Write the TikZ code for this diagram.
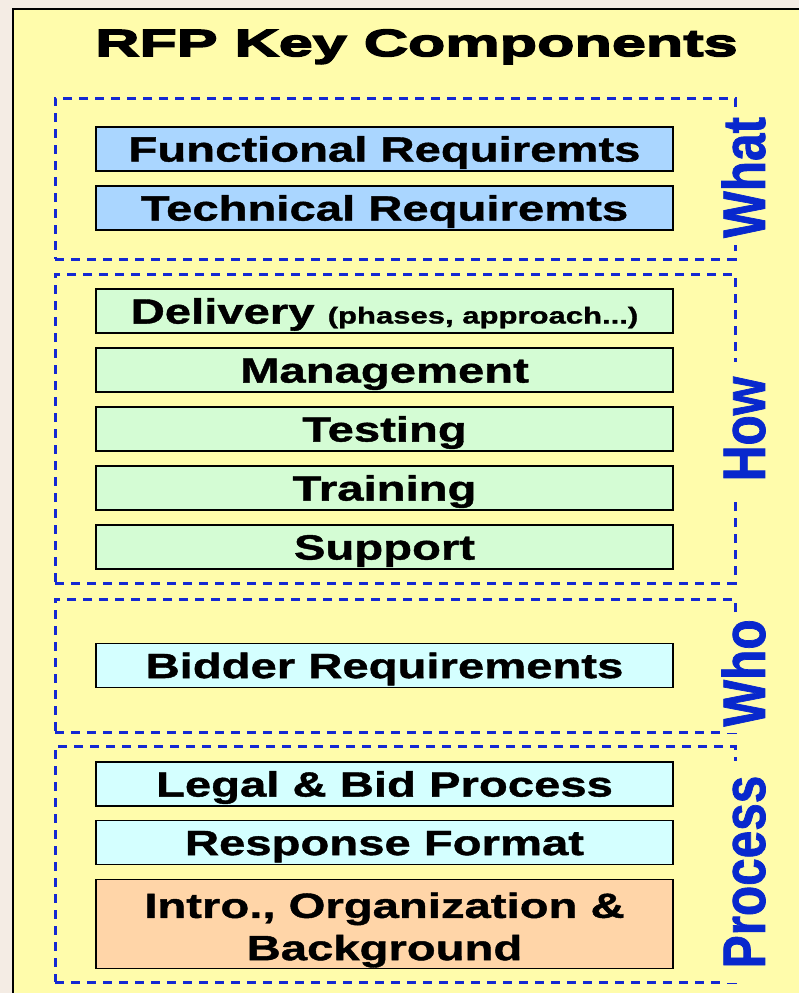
\documentclass[tikz,border=0pt]{standalone}
\usepackage{fontspec}
\setmainfont{Liberation Sans}
\newfontfamily\titlefont{Liberation Sans Bold}[FakeStretch=1.61,FakeBold=4]
\newfontfamily\boxfont{Liberation Sans Bold}[FakeStretch=1.35,FakeBold=1.2]
\newfontfamily\labelfont{Liberation Sans Bold}[FakeStretch=0.825,FakeBold=1.2]

\definecolor{pagebg}{RGB}{244,236,228}
\definecolor{panel}{RGB}{255,252,171}
\definecolor{dashblue}{RGB}{20,40,210}
\definecolor{labelblue}{RGB}{8,40,205}
\definecolor{reqblue}{RGB}{170,214,255}
\definecolor{howgreen}{RGB}{212,252,212}
\definecolor{lightcyan}{RGB}{212,255,255}
\definecolor{peach}{RGB}{255,213,168}

\begin{document}
\begin{tikzpicture}[x=0.75pt,y=-0.75pt,
  zone/.style={draw=dashblue, line width=2.25pt, dash pattern=on 7pt off 5pt,
    minimum width=510pt, inner sep=0pt},
  rowbox/.style={draw=black, line width=1.4pt, minimum width=432.75pt,
    minimum height=33pt, inner sep=0pt,
    font=\boxfont\fontsize{26.25pt}{31.7pt}\selectfont,
    text height=18.8pt, text depth=0pt},
  sidelabel/.style={rotate=90, fill=panel, inner sep=0pt, minimum height=36pt,
    text=labelblue, font=\labelfont\fontsize{45pt}{50pt}\selectfont,
    text height=32.2pt, text depth=0pt}]
\useasboundingbox (0,0) rectangle (799,993);
\clip (0,0) rectangle (799,993);
\fill[pagebg] (0,0) rectangle (799,993);
\draw[line width=1.5pt, fill=panel] (13,9) rectangle (840,1040);

% heading
\node[font=\titlefont\fontsize{28.5pt}{32pt}\selectfont, inner sep=0pt,
      text height=20.4pt, text depth=0pt] (title) at (416.5,42.5) {RFP Key Components};

% dashed groups
\node[zone, minimum height=120.75pt] (gwhat) at (395,178.5) {};
\node[zone, minimum height=231.75pt] (ghow) at (395,428.5) {};
\node[zone, minimum height=99.75pt] (gwho) at (395,665.5) {};
\node[zone, minimum height=177pt] (gproc) at (395,864) {};

% What
\node[rowbox, fill=reqblue] (func) at (384.5,149) {Functional Requiremts};
\node[rowbox, fill=reqblue] (tech) at (384.5,208) {Technical Requiremts};
% How
\node[rowbox, fill=howgreen] (deliv) at (384.5,311)
  {Delivery {\fontsize{17.25pt}{20pt}\selectfont (phases, approach...)}};
\node[rowbox, fill=howgreen] (mgmt) at (384.5,370) {Management};
\node[rowbox, fill=howgreen] (test) at (384.5,429) {Testing};
\node[rowbox, fill=howgreen] (train) at (384.5,488) {Training};
\node[rowbox, fill=howgreen] (supp) at (384.5,547) {Support};
% Who
\node[rowbox, fill=lightcyan] (bidder) at (384.5,665.5) {Bidder Requirements};
% Process
\node[rowbox, fill=lightcyan] (legal) at (384.5,784) {Legal \& Bid Process};
\node[rowbox, fill=lightcyan] (resp) at (384.5,842.5) {Response Format};
\node[rowbox, fill=peach, minimum height=66.75pt] (intro) at (384.5,924) {};
\node[font=\boxfont\fontsize{26.25pt}{31.7pt}\selectfont, align=center,
      inner sep=0pt] (introtext) at ([yshift=-4.5pt]intro.center)
  {Intro., Organization \&\\Background};

% side labels
\node[sidelabel, minimum width=101.25pt] (lwhat) at (743.5,177.5) {What};
\node[sidelabel, minimum width=100.5pt] (lhow) at (743.5,429) {How};
\node[sidelabel, minimum width=90pt] (lwho) at (743.5,673) {Who};
\node[sidelabel, minimum width=166.5pt] (lproc) at (743.5,872) {Process};
\end{tikzpicture}
\end{document}
